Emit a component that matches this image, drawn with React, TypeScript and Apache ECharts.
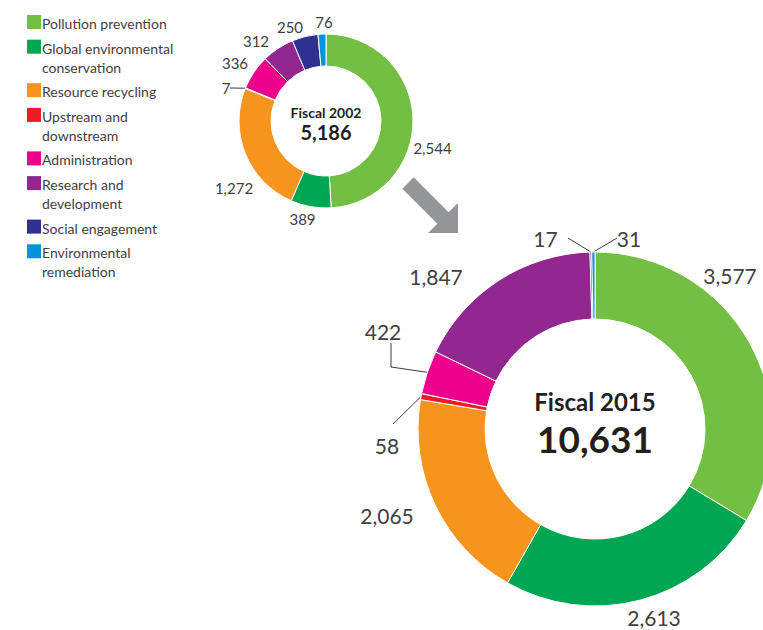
import React, { useEffect, useRef } from "react";
import * as echarts from "echarts";

// ---------- data ----------
const CATEGORIES = [
  "Pollution prevention",
  "Global environmental\nconservation",
  "Resource recycling",
  "Upstream and\ndownstream",
  "Administration",
  "Research and\ndevelopment",
  "Social engagement",
  "Environmental\nremediation",
];
const VALUES_2002 = [2544, 389, 1272, 7, 336, 312, 250, 76];
const VALUES_2015 = [3577, 2613, 2065, 58, 422, 1847, 17, 31];
const TITLE_2002 = "Fiscal 2002";
const TITLE_2015 = "Fiscal 2015";
const TOTAL_2002 = 5186;
const TOTAL_2015 = 10631;

// ---------- style / layout ----------
const COLORS = ["#72bf44", "#00a651", "#f7941d", "#ed1c24", "#ec008c", "#92278f", "#2e3192", "#0095da"];
const FONT = "Lato, 'Open Sans', 'Noto Sans', sans-serif";
const LABEL_COLOR = "#404041";
const CENTER_COLOR = "#231f20";

const PIE_SMALL = { cx: 326, cy: 121, r0: 55, r1: 87, fontSize: 15 };
const PIE_BIG = { cx: 595, cy: 429, r0: 110, r1: 177, fontSize: 21 };

// label centre offsets from pie centre
const LABEL_OFF_SMALL = [[106.5, 26.5], [-23.5, 98], [-92, 66.5], [-100, -33], [-91, -58], [-70, -80], [-36, -94], [-2, -99]];
const LABEL_OFF_BIG = [[135, -154], [59, 188], [-208, 86], [-208, 16], [-212, -98], [-159, -153], [-49.5, -191], [34, -191]];
// leader line elbows, relative to label centre (ordered from label towards slice)
const LINES_SMALL: Record<number, number[][]> = { 3: [[4, 0]] };
const LINES_BIG: Record<number, number[][]> = {
  3: [[6, -21]],
  4: [[8, 12], [8, 36]],
  6: [[22.5, 0]],
  7: [[-12, 0]],
};

const fmt = (v: number) => v.toLocaleString("en-US");

function makeSeries(values: number[], pie: any, offs: number[][], lines: Record<number, number[][]>) {
  return {
    type: "pie",
    center: [pie.cx, pie.cy],
    radius: [pie.r0, pie.r1],
    startAngle: 90,
    clockwise: true,
    avoidLabelOverlap: false,
    silent: true,
    itemStyle: { borderColor: "#ffffff", borderWidth: 1 },
    label: {
      show: true,
      position: "outside",
      color: LABEL_COLOR,
      fontFamily: FONT,
      fontSize: pie.fontSize,
      formatter: (p: any) => fmt(p.value),
    },
    labelLine: { show: true, length: 10, length2: 5, lineStyle: { color: "#3c3c3c", width: 1 } },
    labelLayout: (params: any) => {
      const i = params.dataIndex;
      const x = pie.cx + offs[i][0];
      const y = pie.cy + offs[i][1];
      const res: any = { x, y, align: "center", verticalAlign: "middle" };
      if (lines[i] && params.labelLinePoints) {
        const edge = params.labelLinePoints[0];
        const pts = lines[i].slice().reverse().map(([ox, oy]) => [x + ox, y + oy]);
        res.labelLinePoints = [edge, ...pts];
      }
      return res;
    },
    data: values.map((v, i) => ({
      name: CATEGORIES[i].replace("\n", " "),
      value: v,
      itemStyle: { color: COLORS[i] },
      labelLine: { show: !!lines[i] },
    })),
  };
}

function legendGraphics() {
  const items: any[] = [];
  let y = 15;
  CATEGORIES.forEach((name, i) => {
    const nLines = name.split("\n").length;
    items.push({ type: "rect", shape: { x: 27, y, width: 14, height: 14 }, style: { fill: COLORS[i] } });
    items.push({
      type: "text",
      x: 42,
      y: y - 1,
      style: { text: name, fill: "#414042", fontFamily: FONT, fontSize: 14, lineHeight: 19, align: "left", verticalAlign: "top" },
    });
    y += nLines === 1 ? 24.7 : 43.5;
  });
  return items;
}

function arrowPoints() {
  const S = [408, 183], H = [443, 218], T = [458, 233];
  const n = [Math.SQRT1_2, -Math.SQRT1_2];
  const w = 8, hw = 21.2;
  const p = (b: number[], k: number) => [b[0] + n[0] * k, b[1] + n[1] * k];
  return [p(S, w), p(H, w), p(H, hw), T, p(H, -hw), p(H, -w), p(S, -w)];
}

export default function App() {
  const ref = useRef<HTMLDivElement>(null);
  useEffect(() => {
    if (!ref.current) return;
    const chart = echarts.init(ref.current, undefined, { renderer: "svg" });
    chart.setOption({
      animation: false,
      backgroundColor: "#ffffff",
      series: [
        makeSeries(VALUES_2002, PIE_SMALL, LABEL_OFF_SMALL, LINES_SMALL),
        makeSeries(VALUES_2015, PIE_BIG, LABEL_OFF_BIG, LINES_BIG),
      ],
      graphic: [
        ...legendGraphics(),
        { type: "polygon", shape: { points: arrowPoints() }, style: { fill: "#939598" } },
        { type: "text", x: PIE_SMALL.cx, y: PIE_SMALL.cy - 9, style: { text: TITLE_2002, fill: CENTER_COLOR, fontFamily: FONT, fontWeight: "bold", fontSize: 14, align: "center", verticalAlign: "middle" } },
        { type: "text", x: PIE_SMALL.cx, y: PIE_SMALL.cy + 11, style: { text: fmt(TOTAL_2002), fill: CENTER_COLOR, fontFamily: FONT, fontWeight: "bold", fontSize: 20, align: "center", verticalAlign: "middle" } },
        { type: "text", x: PIE_BIG.cx, y: PIE_BIG.cy - 28, style: { text: TITLE_2015, fill: CENTER_COLOR, fontFamily: FONT, fontWeight: "bold", fontSize: 24, align: "center", verticalAlign: "middle" } },
        { type: "text", x: PIE_BIG.cx, y: PIE_BIG.cy + 9.5, style: { text: fmt(TOTAL_2015), fill: CENTER_COLOR, fontFamily: FONT, fontWeight: "bold", fontSize: 37, align: "center", verticalAlign: "middle" } },
      ],
    });
    return () => chart.dispose();
  }, []);
  return <div ref={ref} style={{ position: "absolute", left: 0, top: 0, width: 763, height: 630 }} />;
}
